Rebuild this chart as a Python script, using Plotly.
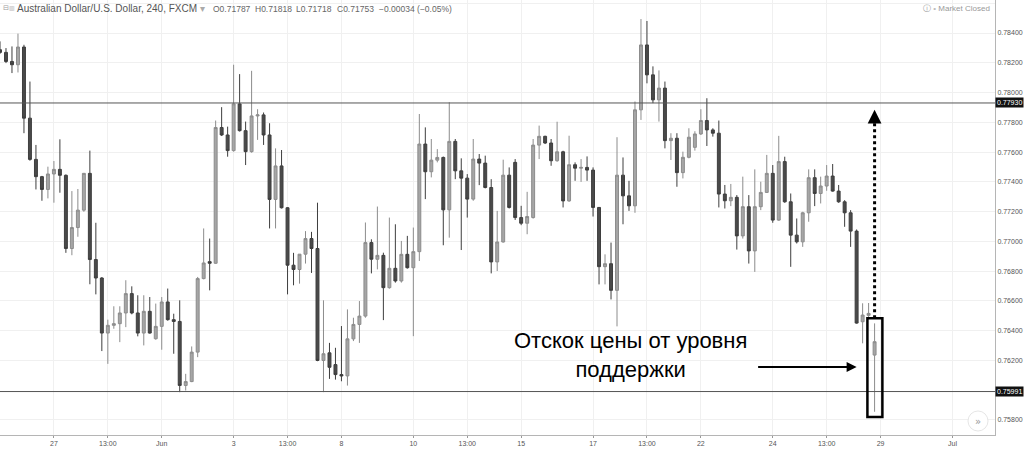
import plotly.graph_objects as go

# ---- data (AUD/USD, 4H candles) ----
opens = [0.78288, 0.78270, 0.78209, 0.78187, 0.78306, 0.77828, 0.77551, 0.77435, 0.77349, 0.77453,
         0.77484, 0.77444, 0.76952, 0.77093, 0.77210, 0.77457, 0.76878, 0.76754, 0.76384, 0.76436,
         0.76447, 0.76519, 0.76649, 0.76519, 0.76384, 0.76530, 0.76346, 0.76429, 0.76593, 0.76474,
         0.76462, 0.76032, 0.76058, 0.76256, 0.76750, 0.76864, 0.76853, 0.77765, 0.77715, 0.77610,
         0.77924, 0.77744, 0.77603, 0.77843, 0.77850, 0.77715, 0.77282, 0.77507, 0.77226, 0.76840,
         0.76811, 0.76914, 0.77019, 0.76952, 0.76200, 0.76251, 0.76172, 0.76105, 0.76096, 0.76345,
         0.76442, 0.76498, 0.76992, 0.76880, 0.76906, 0.76689, 0.76819, 0.76734, 0.76913, 0.76823,
         0.76931, 0.77654, 0.77468, 0.77546, 0.77564, 0.77212, 0.77672, 0.77474, 0.77425, 0.77284,
         0.77553, 0.77526, 0.77362, 0.76862, 0.76996, 0.77445, 0.77531, 0.77160, 0.77122, 0.77160,
         0.77647, 0.77706, 0.77661, 0.77542, 0.77602, 0.77272, 0.77515, 0.77492, 0.77497, 0.77479,
         0.77228, 0.76830, 0.76850, 0.76671, 0.77445, 0.77306, 0.77239, 0.77884, 0.78320, 0.78119,
         0.77951, 0.78030, 0.77677, 0.77693, 0.77462, 0.77565, 0.77632, 0.77722, 0.77812, 0.77749,
         0.77727, 0.77318, 0.77273, 0.77296, 0.77037, 0.77233, 0.76936, 0.77233, 0.77329, 0.77457,
         0.77143, 0.77536, 0.77266, 0.77042, 0.76997, 0.77192, 0.77428, 0.77322, 0.77372, 0.77439,
         0.77338, 0.77266, 0.77192, 0.77069, 0.76460, 0.76503, 0.76236]
highs = [0.78344, 0.78299, 0.78310, 0.78396, 0.78321, 0.78074, 0.77648, 0.77440, 0.77502, 0.77540,
         0.77686, 0.77450, 0.77338, 0.77352, 0.77460, 0.77610, 0.77125, 0.76760, 0.76474, 0.76564,
         0.76564, 0.76739, 0.76698, 0.76638, 0.76638, 0.76626, 0.76582, 0.76626, 0.76683, 0.76514,
         0.76604, 0.76110, 0.76294, 0.76761, 0.77087, 0.77019, 0.77812, 0.77902, 0.77771, 0.78187,
         0.78124, 0.77805, 0.78146, 0.77888, 0.77866, 0.77794, 0.77625, 0.77614, 0.77230, 0.76923,
         0.76914, 0.77069, 0.77064, 0.77260, 0.76604, 0.76318, 0.76285, 0.76431, 0.76543, 0.76487,
         0.76599, 0.77127, 0.77014, 0.77234, 0.76924, 0.77160, 0.77115, 0.77003, 0.77037, 0.77093,
         0.77856, 0.77766, 0.77688, 0.77620, 0.77570, 0.77935, 0.77688, 0.77558, 0.77452, 0.77688,
         0.77587, 0.77576, 0.77418, 0.77205, 0.77549, 0.77497, 0.77553, 0.77239, 0.77333, 0.77688,
         0.77778, 0.77710, 0.77688, 0.77804, 0.77609, 0.77710, 0.77531, 0.77553, 0.77571, 0.77497,
         0.77230, 0.76913, 0.76992, 0.77700, 0.77564, 0.77407, 0.77940, 0.78494, 0.78481, 0.78176,
         0.78149, 0.78074, 0.77727, 0.77727, 0.77603, 0.77760, 0.77740, 0.77888, 0.77962, 0.77760,
         0.77812, 0.77379, 0.77386, 0.77311, 0.77435, 0.77311, 0.77484, 0.77401, 0.77581, 0.77513,
         0.77709, 0.77569, 0.77322, 0.77154, 0.77199, 0.77484, 0.77484, 0.77435, 0.77513, 0.77520,
         0.77379, 0.77277, 0.77210, 0.77080, 0.76584, 0.76586, 0.76449]
lows = [0.78260, 0.78198, 0.78131, 0.78135, 0.77727, 0.77542, 0.77349, 0.77273, 0.77289, 0.77260,
        0.77327, 0.76923, 0.76907, 0.77031, 0.77199, 0.76712, 0.76644, 0.76263, 0.76177, 0.76413,
        0.76323, 0.76424, 0.76510, 0.76362, 0.76301, 0.76380, 0.76339, 0.76272, 0.76467, 0.76245,
        0.75987, 0.75998, 0.76054, 0.76222, 0.76745, 0.76671, 0.76850, 0.77708, 0.77569, 0.77603,
        0.77738, 0.77513, 0.77596, 0.77682, 0.77648, 0.77087, 0.77087, 0.77221, 0.76644, 0.76705,
        0.76716, 0.76851, 0.76788, 0.76195, 0.75987, 0.76076, 0.76071, 0.76060, 0.76031, 0.76330,
        0.76318, 0.76487, 0.76785, 0.76812, 0.76471, 0.76682, 0.76723, 0.76723, 0.76817, 0.76363,
        0.76868, 0.77284, 0.77430, 0.77531, 0.76974, 0.77025, 0.77418, 0.76942, 0.77160, 0.77273,
        0.77378, 0.77356, 0.76785, 0.76801, 0.76992, 0.77221, 0.77144, 0.77109, 0.77048, 0.77153,
        0.77553, 0.77654, 0.77508, 0.77535, 0.77228, 0.77266, 0.77407, 0.77400, 0.77407, 0.77167,
        0.76711, 0.76711, 0.76610, 0.76429, 0.77115, 0.77205, 0.77192, 0.77816, 0.78062, 0.77929,
        0.77805, 0.77625, 0.77547, 0.77367, 0.77423, 0.77558, 0.77610, 0.77715, 0.77641, 0.77704,
        0.77228, 0.77221, 0.77237, 0.76945, 0.77019, 0.76851, 0.76795, 0.77210, 0.77327, 0.77125,
        0.77138, 0.77259, 0.76829, 0.76986, 0.76963, 0.77132, 0.77237, 0.77255, 0.77340, 0.77334,
        0.77259, 0.77098, 0.76963, 0.76447, 0.76315, 0.76480, 0.75855]
closes = [0.78270, 0.78209, 0.78187, 0.78306, 0.77828, 0.77551, 0.77435, 0.77349, 0.77453, 0.77484,
          0.77444, 0.76952, 0.77093, 0.77210, 0.77457, 0.76878, 0.76754, 0.76384, 0.76436, 0.76447,
          0.76519, 0.76649, 0.76519, 0.76384, 0.76530, 0.76384, 0.76429, 0.76593, 0.76474, 0.76462,
          0.76032, 0.76058, 0.76256, 0.76750, 0.76855, 0.76853, 0.77765, 0.77715, 0.77610, 0.77924,
          0.77744, 0.77603, 0.77843, 0.77850, 0.77715, 0.77282, 0.77507, 0.77226, 0.76840, 0.76811,
          0.76914, 0.77019, 0.76952, 0.76200, 0.76245, 0.76154, 0.76105, 0.76096, 0.76345, 0.76442,
          0.76498, 0.76992, 0.76880, 0.76906, 0.76689, 0.76819, 0.76734, 0.76913, 0.76823, 0.76931,
          0.77654, 0.77468, 0.77546, 0.77564, 0.77212, 0.77672, 0.77474, 0.77425, 0.77284, 0.77553,
          0.77526, 0.77362, 0.76862, 0.76996, 0.77445, 0.77228, 0.77160, 0.77122, 0.77167, 0.77647,
          0.77706, 0.77661, 0.77542, 0.77602, 0.77272, 0.77515, 0.77492, 0.77497, 0.77479, 0.77228,
          0.76830, 0.76850, 0.76671, 0.77445, 0.77306, 0.77239, 0.77884, 0.78320, 0.78119, 0.77951,
          0.78030, 0.77677, 0.77693, 0.77462, 0.77565, 0.77700, 0.77722, 0.77812, 0.77749, 0.77727,
          0.77318, 0.77273, 0.77296, 0.77037, 0.77233, 0.76936, 0.77233, 0.77329, 0.77457, 0.77143,
          0.77536, 0.77266, 0.77042, 0.76997, 0.77192, 0.77428, 0.77322, 0.77372, 0.77439, 0.77338,
          0.77266, 0.77192, 0.77069, 0.76451, 0.76505, 0.76516, 0.76326]

tick_positions = [9, 18, 27, 39, 48, 57, 69, 78, 87, 99, 108, 117, 129, 138, 147, 159]
tick_labels = ["27", "13:00", "Jun", "3", "13:00", "8", "10", "13:00", "15", "17",
               "13:00", "22", "24", "13:00", "29", "Jul"]
price_ticks = [0.758, 0.762, 0.764, 0.766, 0.768, 0.770, 0.772, 0.774, 0.776,
               0.778, 0.780, 0.782, 0.784, 0.786]

resistance_level = 0.77930
support_level = 0.75991
bounce_index = 146

header_main = "Australian Dollar/U.S. Dollar, 240, FXCM"
header_ohlc = ["O0.71787", "H0.71818", "L0.71718", "C0.71753", "\u22120.00034 (\u22120.05%)"]
note_text = "Отскок цены от уровня<br>поддержки"

idx = list(range(len(opens)))

W, H = 1024, 450
PLOT_W, PLOT_H = 995, 435
FONT = "Liberation Sans, Arial, sans-serif"

fig = go.Figure()
fig.add_trace(go.Candlestick(
    x=idx, open=opens, high=highs, low=lows, close=closes,
    increasing=dict(fillcolor="#a6a6a6", line=dict(color="#8c8c8c", width=1)),
    decreasing=dict(fillcolor="#4a4a4a", line=dict(color="#3e3e3e", width=1)),
    whiskerwidth=0, showlegend=False, hoverinfo="skip",
))

# horizontal levels
for lvl in (resistance_level, support_level):
    fig.add_shape(type="line", xref="paper", x0=0, x1=1, yref="y", y0=lvl, y1=lvl,
                  line=dict(color="#555555", width=1))

# box around bounce candle
fig.add_shape(type="rect", xref="x", yref="y",
              x0=bounce_index - 1.2, x1=bounce_index + 1.3,
              y0=lows[bounce_index] - 0.00035, y1=highs[bounce_index] + 0.00035,
              line=dict(color="#000000", width=2.5), fillcolor="rgba(0,0,0,0)")

# dotted vertical line to resistance
fig.add_shape(type="line", xref="x", yref="y",
              x0=bounce_index, x1=bounce_index,
              y0=highs[bounce_index] + 0.00035, y1=resistance_level - 0.0008,
              line=dict(color="#000000", width=3, dash="dot"))
fig.add_annotation(x=bounce_index, y=resistance_level - 0.00045, xref="x", yref="y",
                   ax=0, ay=10, showarrow=True, arrowhead=2, arrowsize=1.1,
                   arrowwidth=2.5, arrowcolor="#000000", text="")

# horizontal arrow pointing to the candle
fig.add_annotation(x=bounce_index - 3, y=0.76156, xref="x", yref="y",
                   ax=-100, ay=0, showarrow=True, arrowhead=2, arrowsize=1,
                   arrowwidth=2, arrowcolor="#000000", text="")

# text
fig.add_annotation(x=630 / PLOT_W, y=1 - 355 / PLOT_H, xref="paper", yref="paper",
                   xanchor="center", yanchor="middle",
                   text=note_text, showarrow=False, align="center",
                   font=dict(family=FONT, size=22, color="#000000"))

# price labels on the axis
for lvl in (resistance_level, support_level):
    fig.add_annotation(x=1, y=lvl, xref="paper", yref="y", xanchor="left", yanchor="middle",
                       text=f"{lvl:.5f}", showarrow=False, bgcolor="#111111",
                       borderpad=1, xshift=0,
                       font=dict(family=FONT, size=7, color="#ffffff"))

# header
fig.add_annotation(x=0, y=1, xref="paper", yref="paper", xanchor="left", yanchor="top",
                   xshift=1, yshift=-2, showarrow=False,
                   text="\u229f", font=dict(family="DejaVu Sans", size=7, color="#9a9a9a"))
fig.add_annotation(x=0, y=1, xref="paper", yref="paper", xanchor="left", yanchor="top",
                   xshift=7, yshift=-2, showarrow=False,
                   text="\u25a5", font=dict(family="DejaVu Sans", size=6, color="#b0b0b0"))
fig.add_annotation(x=0, y=1, xref="paper", yref="paper", xanchor="left", yanchor="top",
                   xshift=15, yshift=-1, showarrow=False,
                   text=header_main + " <span style='color:#aaaaaa'>\u25be</span>",
                   font=dict(family=FONT, size=10, color="#555555"))
ohlc_x = [211, 253, 294, 335, 377]
for px, t in zip(ohlc_x, header_ohlc):
    fig.add_annotation(x=0, y=1, xref="paper", yref="paper", xanchor="left", yanchor="top",
                       xshift=px, yshift=-2, showarrow=False, text=t,
                       font=dict(family=FONT, size=8.5, color="#666666"))
fig.add_annotation(x=1, y=1, xref="paper", yref="paper", xanchor="right", yanchor="top",
                   xshift=-3, yshift=-2, showarrow=False,
                   text="\u24d8 <span style='color:#bbbbbb'>\u2022</span> Market Closed",
                   font=dict(family=FONT, size=8, color="#999999"))

# scroll button bottom-right
fig.add_shape(type="circle", xref="paper", yref="paper",
              x0=968 / PLOT_W, x1=988 / PLOT_W, y0=1 - 431 / PLOT_H, y1=1 - 411 / PLOT_H,
              line=dict(color="#e6e6e6", width=1), fillcolor="#ffffff")
fig.add_annotation(x=978 / PLOT_W, y=1 - 421 / PLOT_H, xref="paper", yref="paper",
                   xanchor="center", yanchor="middle",
                   text="\u00bb", showarrow=False,
                   font=dict(family="DejaVu Sans", size=10, color="#999999"))

fig.update_layout(
    width=W, height=H,
    margin=dict(l=0, r=W - PLOT_W, t=0, b=H - PLOT_H, pad=0),
    paper_bgcolor="#ffffff", plot_bgcolor="#ffffff",
    showlegend=False,
    xaxis=dict(range=[0, 166.1], rangeslider=dict(visible=False), automargin=False,
               tickmode="array", tickvals=tick_positions, ticktext=tick_labels,
               showgrid=True, gridcolor="#f0f0f0", gridwidth=1, zeroline=False,
               showline=True, linecolor="#b5b5b5", linewidth=1,
               ticks="outside", ticklen=2, tickcolor="#999999",
               tickfont=dict(family=FONT, size=7, color="#555555")),
    yaxis=dict(side="right", range=[0.75699, 0.78622], automargin=False,
               tickmode="array", tickvals=price_ticks, tickformat=".5f",
               showgrid=True, gridcolor="#f0f0f0", gridwidth=1, zeroline=False,
               showline=True, linecolor="#b5b5b5", linewidth=1,
               ticks="", tickfont=dict(family=FONT, size=7, color="#555555")),
)

fig.write_html("out.html", config={"displayModeBar": False},
               post_script="document.body.style.margin='0';")
